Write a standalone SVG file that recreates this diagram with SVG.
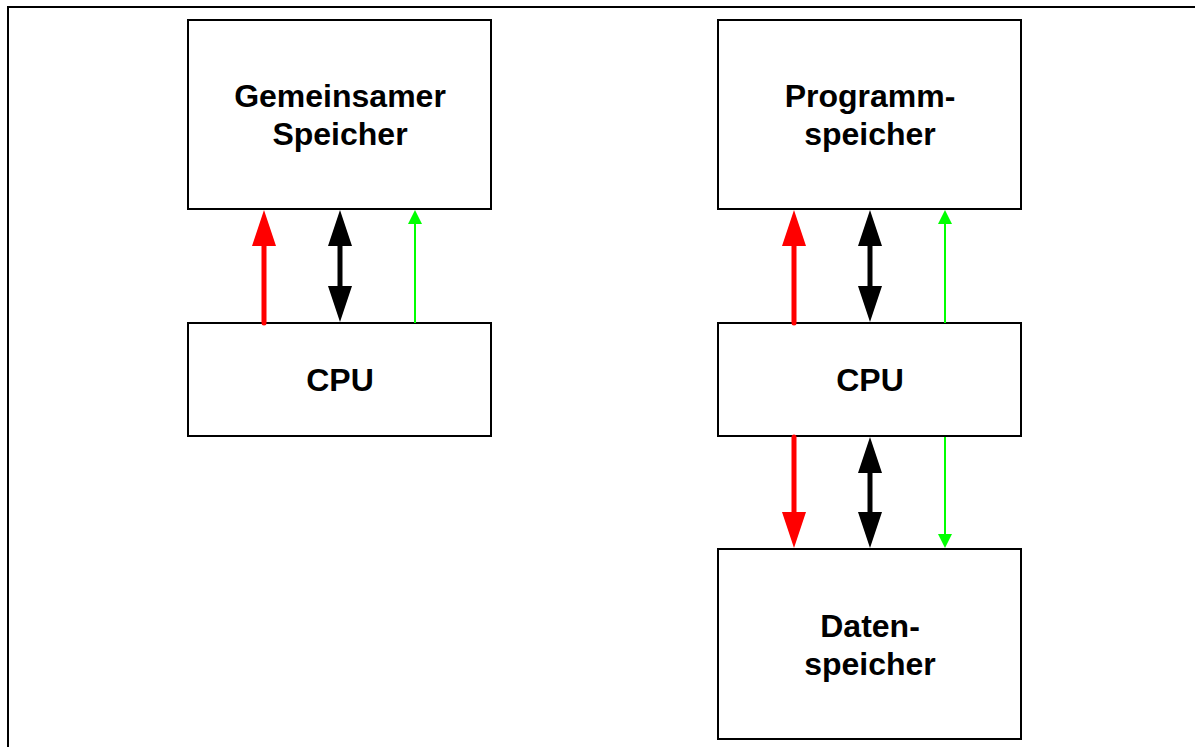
<svg xmlns="http://www.w3.org/2000/svg" width="1195" height="747" viewBox="0 0 1195 747">
<style>
.box{fill:#fff;stroke:#000;stroke-width:2}
.t{font-family:"Liberation Sans",Arial,sans-serif;font-weight:bold;font-size:32px;text-anchor:middle;fill:#000}
.red{stroke:#ff0000;stroke-width:5;stroke-linecap:round}
.blk{stroke:#000;stroke-width:5}
.grn{stroke:#00ff00;stroke-width:2}
</style>
<rect x="0" y="0" width="1195" height="747" fill="#fff"/>
<rect x="8" y="7" width="1200" height="760" fill="none" stroke="#000" stroke-width="2"/>
<g id="gemeinsamer-speicher"><rect class="box" x="188" y="20" width="303" height="189"/><text class="t" x="340" y="107">Gemeinsamer</text><text class="t" x="340" y="145">Speicher</text></g>
<g id="cpu1"><rect class="box" x="188" y="323" width="303" height="113"/><text class="t" x="340" y="391">CPU</text></g>
<g id="programmspeicher"><rect class="box" x="718" y="20" width="303" height="189"/><text class="t" x="870" y="107">Programm-</text><text class="t" x="870" y="145">speicher</text></g>
<g id="cpu2"><rect class="box" x="718" y="323" width="303" height="113"/><text class="t" x="870" y="391">CPU</text></g>
<g id="datenspeicher"><rect class="box" x="718" y="549" width="303" height="190"/><text class="t" x="870" y="637">Daten-</text><text class="t" x="870" y="675">speicher</text></g>
<g id="connectors">
<line class="red" x1="264" y1="323" x2="264" y2="243"/><polygon points="264,210 252,246 276,246" fill="#ff0000"/>
<line class="blk" x1="340" y1="243" x2="340" y2="289"/><polygon points="340,210 328,246 352,246" fill="#000"/><polygon points="340,322 328,286 352,286" fill="#000"/>
<line class="grn" x1="415" y1="323" x2="415" y2="222"/><polygon points="415,210 408,224 422,224" fill="#00ff00"/>
<line class="red" x1="794" y1="323" x2="794" y2="243"/><polygon points="794,210 782,246 806,246" fill="#ff0000"/>
<line class="blk" x1="870" y1="243" x2="870" y2="289"/><polygon points="870,210 858,246 882,246" fill="#000"/><polygon points="870,322 858,286 882,286" fill="#000"/>
<line class="grn" x1="945" y1="323" x2="945" y2="222"/><polygon points="945,210 938,224 952,224" fill="#00ff00"/>
<line class="red" x1="794" y1="437" x2="794" y2="515"/><polygon points="794,548 782,512 806,512" fill="#ff0000"/>
<line class="blk" x1="870" y1="472" x2="870" y2="515"/><polygon points="870,437 858,473 882,473" fill="#000"/><polygon points="870,548 858,512 882,512" fill="#000"/>
<line class="grn" x1="945" y1="437" x2="945" y2="536"/><polygon points="945,548 938,534 952,534" fill="#00ff00"/>
</g>
</svg>
